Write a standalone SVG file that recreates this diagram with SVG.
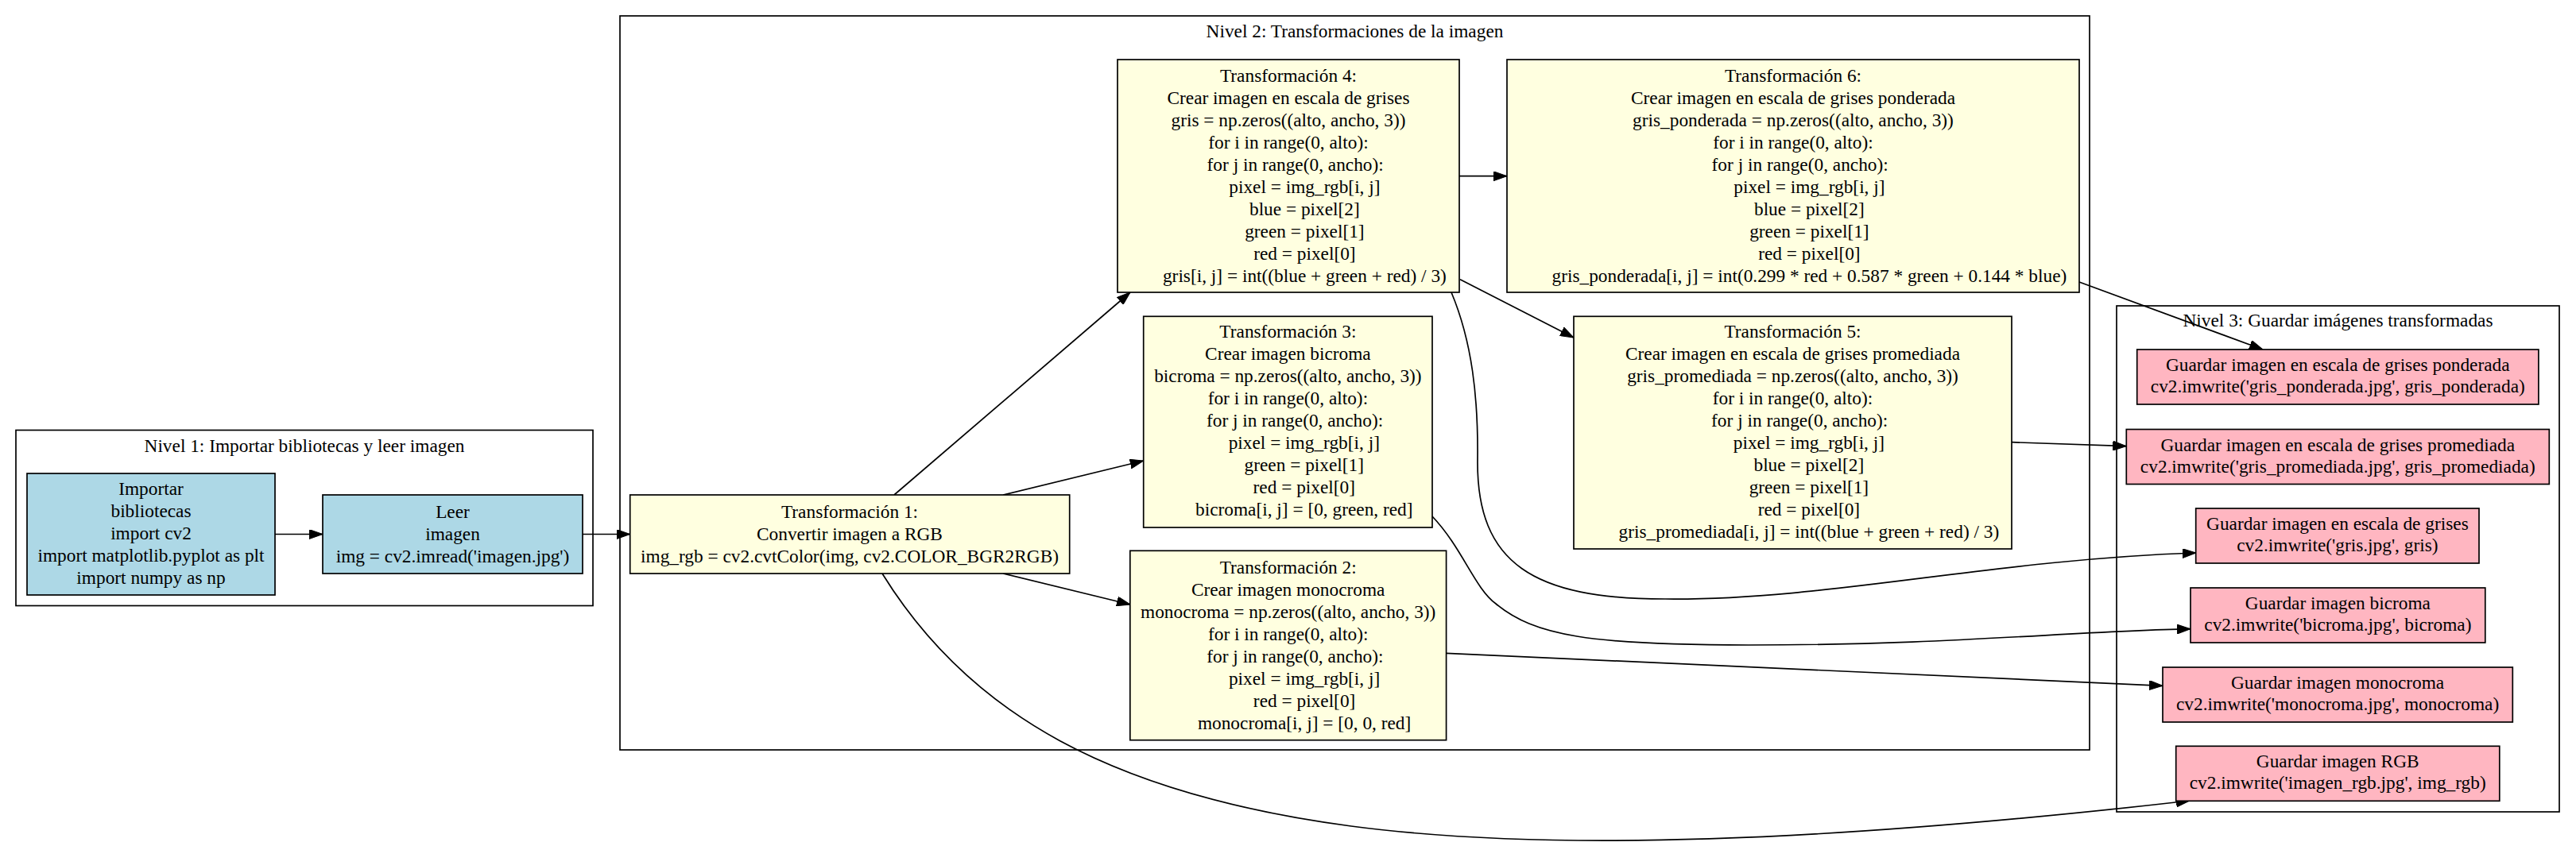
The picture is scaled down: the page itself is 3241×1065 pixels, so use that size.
<svg xmlns="http://www.w3.org/2000/svg" width="3241" height="1065" viewBox="0 0 3241 1065">
<style>
text{font-family:"Liberation Serif","Times New Roman",serif;font-size:23.33px;fill:#000;text-anchor:middle}
.cl{fill:none;stroke:#000;stroke-width:1.7}
.n1{fill:#add8e6;stroke:#000;stroke-width:1.7}
.n2{fill:#ffffe0;stroke:#000;stroke-width:1.7}
.n3{fill:#ffb6c1;stroke:#000;stroke-width:1.7}
.e{fill:none;stroke:#000;stroke-width:1.7;marker-end:url(#ah)}
</style>
<defs>
<marker id="ah" markerUnits="userSpaceOnUse" viewBox="0 0 17 12" refX="17" refY="6" markerWidth="17" markerHeight="12" orient="auto">
<path d="M0,0 L17,6 L0,12 z" fill="#000" stroke="#000" stroke-width="1"/>
</marker>
</defs>
<rect width="3241" height="1065" fill="#fff"/>
<g id="clusters">
<g id="nivel1"><rect class="cl" x="20" y="541.5" width="726" height="221"/><text x="383" y="569">Nivel 1: Importar bibliotecas y leer imagen</text></g>
<g id="nivel2"><rect class="cl" x="780" y="20" width="1849" height="924"/><text x="1704.5" y="47">Nivel 2: Transformaciones de la imagen</text></g>
<g id="nivel3"><rect class="cl" x="2663" y="385" width="557" height="637"/><text x="2941.5" y="411">Nivel 3: Guardar imágenes transformadas</text></g>
</g>
<g id="connectors">
<path class="e" d="M346,672.5 L406,672.5"/>
<path class="e" d="M733,672.5 L792.7,672.5"/>
<path class="e" d="M1125,623 L1422,368"/>
<path class="e" d="M1262,623 L1438.7,580"/>
<path class="e" d="M1262,722 L1422,761"/>
<path class="e" d="M1110,722 C1220,900 1400,1000 1700,1040 C1950,1073 2300,1060 2755,1008"/>
<path class="e" d="M1836,221.7 L1896,221.7"/>
<path class="e" d="M1837,351.7 L1980,425"/>
<path class="e" d="M1826,368 C1852,430 1860,500 1859,580 C1858,710 1930,754 2095,754 C2300,756 2500,705 2762.7,696"/>
<path class="e" d="M1802,650 C1840,690 1855,740 1882,760 C1930,800 2000,812 2200,812 C2450,812 2600,795 2756,791.7"/>
<path class="e" d="M1819.6,822.3 L2721,863.3"/>
<path class="e" d="M2531,556.7 L2675.3,561.7"/>
<path class="e" d="M2616,355 L2847,440"/>
</g>
<g id="importar"><rect class="n1" x="34" y="596" width="312" height="153"/>
<text x="190" y="623">Importar</text><text x="190" y="651">bibliotecas</text><text x="190" y="679">import cv2</text><text x="190" y="707">import matplotlib.pyplot as plt</text><text x="190" y="735">import numpy as np</text></g>
<g id="leer"><rect class="n1" x="406" y="623" width="327" height="99"/>
<text x="569.5" y="651.5">Leer</text><text x="569.5" y="679.5">imagen</text><text x="569.5" y="707.5">img = cv2.imread('imagen.jpg')</text></g>
<g id="trans1"><rect class="n2" x="792.7" y="623" width="553" height="99"/>
<text x="1069" y="651.5">Transformación 1:</text><text x="1069" y="679.5">Convertir imagen a RGB</text><text x="1069" y="707.5">img_rgb = cv2.cvtColor(img, cv2.COLOR_BGR2RGB)</text></g>
<g id="trans4"><rect class="n2" x="1406" y="75" width="430" height="293"/>
<text x="1621" y="103">Transformación 4:</text><text x="1621" y="131">Crear imagen en escala de grises</text><text x="1621" y="159">gris = np.zeros((alto, ancho, 3))</text><text x="1621" y="187">for i in range(0, alto):</text><text x="1629.7" y="215">for j in range(0, ancho):</text><text x="1641.4" y="243">pixel = img_rgb[i, j]</text><text x="1641.4" y="271">blue = pixel[2]</text><text x="1641.4" y="299">green = pixel[1]</text><text x="1641.4" y="327">red = pixel[0]</text><text x="1641.4" y="355">gris[i, j] = int((blue + green + red) / 3)</text></g>
<g id="trans6"><rect class="n2" x="1896" y="75" width="720" height="293"/>
<text x="2256" y="103">Transformación 6:</text><text x="2256" y="131">Crear imagen en escala de grises ponderada</text><text x="2256" y="159">gris_ponderada = np.zeros((alto, ancho, 3))</text><text x="2256" y="187">for i in range(0, alto):</text><text x="2264.7" y="215">for j in range(0, ancho):</text><text x="2276.4" y="243">pixel = img_rgb[i, j]</text><text x="2276.4" y="271">blue = pixel[2]</text><text x="2276.4" y="299">green = pixel[1]</text><text x="2276.4" y="327">red = pixel[0]</text><text x="2276.4" y="355">gris_ponderada[i, j] = int(0.299 * red + 0.587 * green + 0.144 * blue)</text></g>
<g id="trans3"><rect class="n2" x="1438.7" y="398.3" width="363.3" height="265.7"/>
<text x="1620.4" y="425">Transformación 3:</text><text x="1620.4" y="453">Crear imagen bicroma</text><text x="1620.4" y="481">bicroma = np.zeros((alto, ancho, 3))</text><text x="1620.4" y="509">for i in range(0, alto):</text><text x="1629.1" y="537">for j in range(0, ancho):</text><text x="1640.8" y="565">pixel = img_rgb[i, j]</text><text x="1640.8" y="593">green = pixel[1]</text><text x="1640.8" y="621">red = pixel[0]</text><text x="1640.8" y="649">bicroma[i, j] = [0, green, red]</text></g>
<g id="trans5"><rect class="n2" x="1980" y="398.3" width="551" height="292.7"/>
<text x="2255.5" y="425">Transformación 5:</text><text x="2255.5" y="453">Crear imagen en escala de grises promediada</text><text x="2255.5" y="481">gris_promediada = np.zeros((alto, ancho, 3))</text><text x="2255.5" y="509">for i in range(0, alto):</text><text x="2264.2" y="537">for j in range(0, ancho):</text><text x="2275.9" y="565">pixel = img_rgb[i, j]</text><text x="2275.9" y="593">blue = pixel[2]</text><text x="2275.9" y="621">green = pixel[1]</text><text x="2275.9" y="649">red = pixel[0]</text><text x="2275.9" y="677">gris_promediada[i, j] = int((blue + green + red) / 3)</text></g>
<g id="trans2"><rect class="n2" x="1421.8" y="693.3" width="397.8" height="238.4"/>
<text x="1620.7" y="722">Transformación 2:</text><text x="1620.7" y="750">Crear imagen monocroma</text><text x="1620.7" y="778">monocroma = np.zeros((alto, ancho, 3))</text><text x="1620.7" y="806">for i in range(0, alto):</text><text x="1629.4" y="834">for j in range(0, ancho):</text><text x="1641.1" y="862">pixel = img_rgb[i, j]</text><text x="1641.1" y="890">red = pixel[0]</text><text x="1641.1" y="918">monocroma[i, j] = [0, 0, red]</text></g>
<g id="save_ponderada"><rect class="n3" x="2688.7" y="440" width="505.2" height="69"/>
<text x="2941.3" y="467">Guardar imagen en escala de grises ponderada</text><text x="2941.3" y="494">cv2.imwrite('gris_ponderada.jpg', gris_ponderada)</text></g>
<g id="save_promediada"><rect class="n3" x="2675.3" y="540.5" width="532" height="69"/>
<text x="2941.3" y="567.5">Guardar imagen en escala de grises promediada</text><text x="2941.3" y="594.5">cv2.imwrite('gris_promediada.jpg', gris_promediada)</text></g>
<g id="save_gris"><rect class="n3" x="2762.7" y="640" width="356.3" height="69"/>
<text x="2940.9" y="667">Guardar imagen en escala de grises</text><text x="2940.9" y="694">cv2.imwrite('gris.jpg', gris)</text></g>
<g id="save_bicroma"><rect class="n3" x="2756" y="740" width="370.8" height="69"/>
<text x="2941.4" y="767">Guardar imagen bicroma</text><text x="2941.4" y="794">cv2.imwrite('bicroma.jpg', bicroma)</text></g>
<g id="save_monocroma"><rect class="n3" x="2721" y="840" width="440.3" height="69"/>
<text x="2941.1" y="867">Guardar imagen monocroma</text><text x="2941.1" y="894">cv2.imwrite('monocroma.jpg', monocroma)</text></g>
<g id="save_rgb"><rect class="n3" x="2737.7" y="939.3" width="407.1" height="69"/>
<text x="2941.2" y="966.3">Guardar imagen RGB</text><text x="2941.2" y="993.3">cv2.imwrite('imagen_rgb.jpg', img_rgb)</text></g>
</svg>
